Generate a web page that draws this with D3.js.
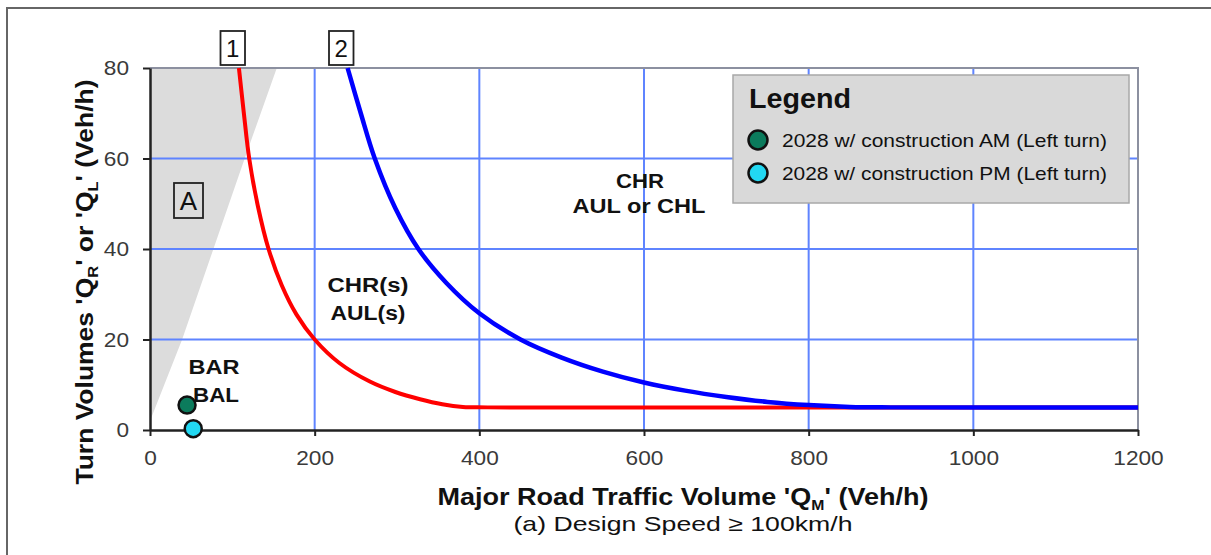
<!DOCTYPE html>
<html>
<head>
<meta charset="utf-8">
<script src="https://cdn.jsdelivr.net/npm/d3@7/dist/d3.min.js"></script>
<style>
  html, body { margin: 0; padding: 0; background: #fff; }
  svg { display: block; font-family: "Liberation Sans", Arial, sans-serif; }
</style>
</head>
<body>
<svg id="chart" width="1211" height="555"></svg>
<script>
// ---------- data ----------
const xTicks = [0, 200, 400, 600, 800, 1000, 1200];
const yTicks = [0, 20, 40, 60, 80];
// Curve 1 (red): [Q_M, Q_L]
const curve1 = [[108,80],[114,70],[120.5,60],[131,49.5],[144,40],[160,32],[178,25.5],[200,20],[230,14.8],[267,10.7],[298,8.4],[328,6.8],[355,5.7],[380,5.1],[410,5],[800,5],[1200,5]];
// Curve 2 (blue)
const curve2 = [[240,80],[256,70],[273,60],[298,49],[326,40],[360,32.5],[400,25.8],[450,20],[500,16],[550,12.9],[600,10.5],[650,8.7],[700,7.3],[750,6.2],[800,5.5],[850,5.1],[900,5],[1200,5]];
// Region A (grey)
const regionA = [[0,2],[0,80],[154,80],[115,60],[77,40],[39,20]];
// Observed points
const pointNames = ["2028 w/ construction AM  (Left turn)", "2028 w/ construction PM  (Left turn)"];
const pointQM = [45, 52.5];
const pointQL = [5.5, 0.3];
const pointColors = ["#0b7b5c", "#22d8f2"];

// ---------- layout ----------
const svg = d3.select("#chart");
const x = d3.scaleLinear().domain([0, 1200]).range([150, 1138]);
const y = d3.scaleLinear().domain([0, 80]).range([430, 68]);

// outer frame
svg.append("rect").attr("x", 7).attr("y", 8).attr("width", 1230).attr("height", 580)
  .attr("fill", "none").attr("stroke", "#666").attr("stroke-width", 2);

// region A
svg.append("path").attr("d", d3.line().x(d => x(d[0])).y(d => y(d[1]))(regionA) + "Z")
  .attr("fill", "#dcdcdc");

// grid
const grid = svg.append("g");
grid.selectAll("line.v").data(xTicks.slice(1, -1)).join("line")
  .attr("x1", d => x(d)).attr("x2", d => x(d)).attr("y1", y(80)).attr("y2", y(0))
  .attr("stroke", "#5f84ff").attr("stroke-width", 2);
grid.selectAll("line.h").data(yTicks.slice(1, -1)).join("line")
  .attr("x1", x(0)).attr("x2", x(1200)).attr("y1", d => y(d)).attr("y2", d => y(d))
  .attr("stroke", "#5f84ff").attr("stroke-width", 2);

// top/right border
svg.append("path").attr("d", `M${x(0)},${y(80)}H${x(1200)}V${y(0)}`)
  .attr("fill", "none").attr("stroke", "#8c90a0").attr("stroke-width", 2);

// curves
const line = d3.line().x(d => x(d[0])).y(d => y(d[1])).curve(d3.curveCatmullRom.alpha(0.5));
svg.append("path").attr("d", line(curve1)).attr("fill", "none").attr("stroke", "#ff0000").attr("stroke-width", 4);
svg.append("path").attr("d", line(curve2)).attr("fill", "none").attr("stroke", "#0000ff").attr("stroke-width", 4.5);

// axes
const fmt = d3.format("d");
const xAxis = svg.append("g").attr("transform", `translate(0,${y(0)})`)
  .call(d3.axisBottom(x).tickValues(xTicks).tickSize(6).tickSizeOuter(0).tickPadding(14).tickFormat(fmt));
const yAxis = svg.append("g").attr("transform", `translate(${x(0)},0)`)
  .call(d3.axisLeft(y).tickValues(yTicks).tickSize(7).tickSizeOuter(0).tickPadding(14).tickFormat(fmt));
[xAxis, yAxis].forEach(a => {
  a.select(".domain").attr("stroke", "#222").attr("stroke-width", 2.5);
  a.selectAll(".tick line").attr("stroke", "#222").attr("stroke-width", 2);
  a.selectAll(".tick text").attr("fill", "#3a3a3a").attr("font-size", 21)
    .attr("font-family", "'Liberation Sans', Arial, sans-serif")
    .attr("textLength", d => fmt(d).length * 12.6).attr("lengthAdjust", "spacingAndGlyphs");
});

// points
svg.selectAll("circle.pt").data(pointQM).join("circle")
  .attr("cx", d => x(d)).attr("cy", (d, i) => y(pointQL[i])).attr("r", 8.5)
  .attr("fill", (d, i) => pointColors[i]).attr("stroke", "#111").attr("stroke-width", 2.5);

// region labels
function label(txt, cx, by, size, len, weight) {
  const t = svg.append("text").attr("x", cx).attr("y", by).attr("text-anchor", "middle")
    .attr("font-size", size).attr("font-weight", weight || "bold").attr("fill", "#111").text(txt);
  if (len) t.attr("textLength", len).attr("lengthAdjust", "spacingAndGlyphs");
  return t;
}
label("BAR", 214, 374, 19.5, 51);
label("BAL", 216, 402, 19.5, 46);
label("CHR(s)", 368, 292, 19.5, 81);
label("AUL(s)", 368, 320, 19.5, 75);
label("CHR", 640, 188, 20, 48);
label("AUL or CHL", 639, 213, 20, 133);

// boxed labels
function boxed(txt, x0, y0, w, h, size) {
  svg.append("rect").attr("x", x0).attr("y", y0).attr("width", w).attr("height", h)
    .attr("fill", "#fff").attr("stroke", "#222").attr("stroke-width", 1.8);
  svg.append("text").attr("x", x0 + w / 2).attr("y", y0 + h / 2).attr("dy", "0.36em")
    .attr("text-anchor", "middle").attr("font-size", size).attr("fill", "#111").text(txt);
}
boxed("1", 220.5, 31, 24.5, 34, 24);
boxed("2", 329, 31, 24.5, 34, 24);
svg.append("rect").attr("x", 174).attr("y", 183).attr("width", 29).attr("height", 35)
  .attr("fill", "#dcdcdc").attr("stroke", "#222").attr("stroke-width", 1.8);
svg.append("text").attr("x", 188.5).attr("y", 200.5).attr("dy", "0.36em").attr("text-anchor", "middle")
  .attr("font-size", 26).attr("fill", "#111").text("A");

// legend
const lg = svg.append("g");
lg.append("rect").attr("x", 733).attr("y", 75).attr("width", 396).attr("height", 128)
  .attr("fill", "#d9d9d9").attr("stroke", "#a8a8a8").attr("stroke-width", 1.5);
lg.append("text").attr("x", 749).attr("y", 108).attr("font-size", 27).attr("font-weight", "bold")
  .attr("fill", "#111").attr("textLength", 102).attr("lengthAdjust", "spacingAndGlyphs").text("Legend");
pointNames.forEach((n, i) => {
  const cy = 140 + i * 33;
  lg.append("circle").attr("cx", 758).attr("cy", cy).attr("r", 9.5)
    .attr("fill", pointColors[i]).attr("stroke", "#111").attr("stroke-width", 2.5);
  lg.append("text").attr("x", 782).attr("y", cy + 7).attr("font-size", 18.5).attr("fill", "#111")
    .attr("textLength", 325).attr("lengthAdjust", "spacingAndGlyphs").text(n);
});

// axis titles
const xt = svg.append("text").attr("x", 683).attr("y", 505).attr("text-anchor", "middle")
  .attr("font-size", 24).attr("font-weight", "bold").attr("fill", "#111")
  .attr("textLength", 491).attr("lengthAdjust", "spacingAndGlyphs");
xt.append("tspan").text("Major Road Traffic Volume 'Q");
xt.append("tspan").attr("font-size", 14).attr("dy", 5).text("M");
xt.append("tspan").attr("dy", -5).text("' (Veh/h)");
svg.append("text").attr("x", 683).attr("y", 531).attr("text-anchor", "middle")
  .attr("font-size", 21).attr("fill", "#111")
  .attr("textLength", 339).attr("lengthAdjust", "spacingAndGlyphs").text("(a) Design Speed ≥ 100km/h");

const yt = svg.append("text").attr("transform", "translate(93,282) rotate(-90)").attr("text-anchor", "middle")
  .attr("font-size", 24).attr("font-weight", "bold").attr("fill", "#111")
  .attr("textLength", 405).attr("lengthAdjust", "spacingAndGlyphs");
yt.append("tspan").text("Turn Volumes 'Q");
yt.append("tspan").attr("font-size", 15).attr("dy", 5).text("R");
yt.append("tspan").attr("dy", -5).text("' or 'Q");
yt.append("tspan").attr("font-size", 15).attr("dy", 5).text("L");
yt.append("tspan").attr("dy", -5).text("' (Veh/h)");
</script>
</body>
</html>
